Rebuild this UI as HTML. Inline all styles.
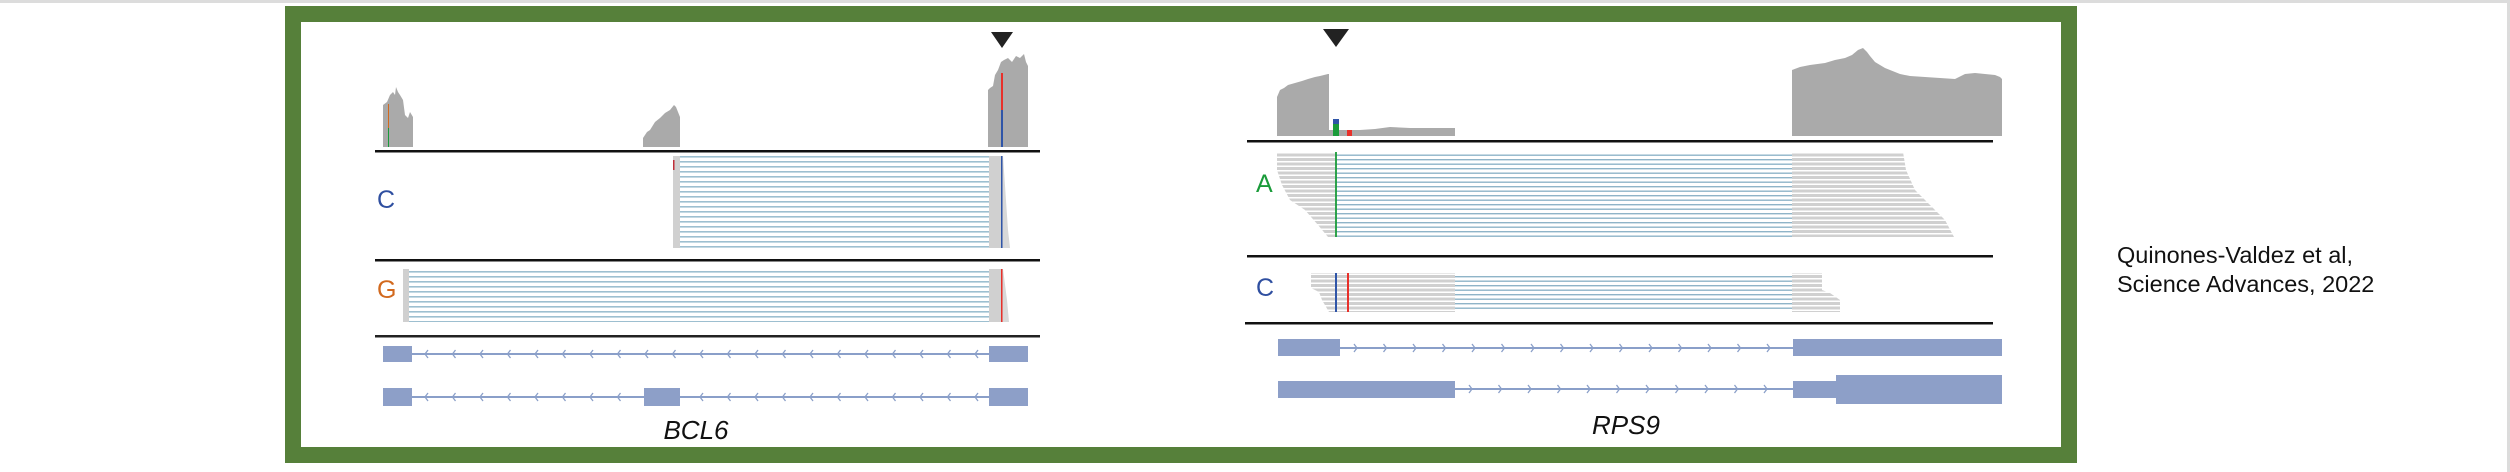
<!DOCTYPE html>
<html><head><meta charset="utf-8"><style>
html,body{margin:0;padding:0;background:#fff;}
body{width:2510px;height:472px;overflow:hidden;position:relative;}
</style></head><body>
<svg width="2510" height="472" viewBox="0 0 2510 472" xmlns="http://www.w3.org/2000/svg" style="position:absolute;left:0;top:0">
<defs>
<pattern id="rd" x="0" y="0" width="10" height="5" patternUnits="userSpaceOnUse"><rect x="0" y="1" width="10" height="1.6" fill="#9dbfd0"/></pattern>
<pattern id="rg" x="0" y="0" width="10" height="4.5" patternUnits="userSpaceOnUse"><rect x="0" y="0.5" width="10" height="3" fill="#d0d0d0"/></pattern>
<pattern id="rb" x="0" y="0" width="10" height="4.5" patternUnits="userSpaceOnUse"><rect x="0" y="1.5" width="10" height="1.4" fill="#8fb4c8"/></pattern>
<pattern id="al1" x="412" y="340" width="27.5" height="30" patternUnits="userSpaceOnUse"><path d="M16 10 L13 14 L16 18" stroke="#8a9fc9" stroke-width="1.3" fill="none"/></pattern>
<pattern id="al2" x="412" y="383" width="27.5" height="30" patternUnits="userSpaceOnUse"><path d="M16 10 L13 14 L16 18" stroke="#8a9fc9" stroke-width="1.3" fill="none"/></pattern>
<pattern id="ar1" x="1340" y="330" width="29.5" height="36" patternUnits="userSpaceOnUse"><path d="M14 14 L17 18 L14 22" stroke="#8a9fc9" stroke-width="1.3" fill="none"/></pattern>
<pattern id="ar2" x="1455" y="371" width="29.5" height="36" patternUnits="userSpaceOnUse"><path d="M14 14 L17 18 L14 22" stroke="#8a9fc9" stroke-width="1.3" fill="none"/></pattern>
</defs>
<rect x="0" y="0" width="2510" height="3" fill="#dcdcdc"/>
<rect x="2507" y="0" width="3" height="472" fill="#dcdcdc"/>
<!-- frame -->
<rect x="293" y="14" width="1776" height="441" fill="none" stroke="#56803a" stroke-width="16"/>

<!-- BCL6 -->
<polygon points="991,32 1013,32 1002,48" fill="#222"/>
<polygon points="383,147 383,105 387,102 390,95 393,92 395,95 396,87 398,92 400,95 403,100 405,115 408,118 410,112 413,117 413,147" fill="#aaa"/>
<rect x="388" y="104" width="1" height="24" fill="#d2691e"/><rect x="388" y="128" width="1" height="19" fill="#1a9b3a"/>
<polygon points="643,147 643,138 647,132 650,130 655,122 660,118 665,113 670,110 674,105 676,107 678,112 680,117 680,147" fill="#aaa"/>
<polygon points="988,147 988,90 990,88 993,86 995,75 998,70 1001,62 1004,60 1008,58 1012,62 1016,56 1020,58 1024,54 1026,62 1028,66 1028,147" fill="#aaa"/>
<rect x="1001" y="73" width="2" height="37" fill="#e8302a"/><rect x="1001" y="110" width="2" height="37" fill="#2f55a8"/>
<rect x="375" y="150" width="665" height="2.5" fill="#111"/>
<rect x="375" y="259" width="665" height="2.5" fill="#111"/>
<rect x="375" y="335" width="665" height="2.5" fill="#222"/>
<text x="377" y="208" font-family="Liberation Sans, sans-serif" font-size="25" fill="#2f4fa0">C</text>
<rect x="673" y="156" width="7" height="92" fill="#d0d0d0"/>
<rect x="673" y="160" width="1.5" height="10" fill="#c0303a"/>
<rect x="680" y="156" width="309" height="92" fill="url(#rd)"/>
<rect x="989" y="156" width="14" height="92" fill="#d0d0d0"/>
<polygon points="1003,156 1008,230 1010,248 1003,248" fill="#d8d8d8"/>
<rect x="1001" y="156" width="1.5" height="92" fill="#2f55a8"/>
<text x="377" y="298" font-family="Liberation Sans, sans-serif" font-size="25" fill="#d2691e">G</text>
<rect x="403" y="269" width="6" height="53" fill="#d0d0d0"/>
<rect x="409" y="269" width="580" height="53" fill="url(#rd)"/>
<rect x="989" y="269" width="14" height="53" fill="#d0d0d0"/>
<polygon points="1003,269 1007,300 1009,322 1003,322" fill="#d8d8d8"/>
<rect x="1001" y="269" width="1.5" height="53" fill="#e8302a"/>
<!-- gene tracks BCL6 -->
<rect x="412" y="353" width="577" height="2" fill="#8a9fc9"/>
<rect x="412" y="340" width="577" height="30" fill="url(#al1)"/>
<rect x="383" y="346" width="29" height="16" fill="#8d9fc8"/>
<rect x="989" y="346" width="39" height="16" fill="#8d9fc8"/>
<rect x="412" y="396" width="577" height="2" fill="#8a9fc9"/>
<rect x="412" y="383" width="232" height="30" fill="url(#al2)"/>
<rect x="680" y="383" width="309" height="30" fill="url(#al2)"/>
<rect x="383" y="388" width="29" height="18" fill="#8d9fc8"/>
<rect x="644" y="388" width="36" height="18" fill="#8d9fc8"/>
<rect x="989" y="388" width="39" height="18" fill="#8d9fc8"/>
<text x="696" y="439" text-anchor="middle" font-family="Liberation Sans, sans-serif" font-style="italic" font-size="26" fill="#111">BCL6</text>

<!-- RPS9 -->
<polygon points="1323,29 1349,29 1336,47" fill="#222"/>
<polygon points="1277,136 1277,97 1280,90 1284,88 1288,85 1295,83 1302,81 1308,79 1315,77 1320,76 1328,74 1329,74 1329,130 1340,130 1360,130 1375,129 1390,127 1410,128 1455,128 1455,136" fill="#aaa"/>
<rect x="1333" y="119" width="6" height="5" fill="#2f55a8"/><rect x="1333" y="124" width="6" height="12" fill="#1a9b3a"/>
<rect x="1347" y="130" width="5" height="6" fill="#e8302a"/>
<polygon points="1792,136 1792,70 1800,67 1810,65 1825,63 1835,60 1845,58 1852,55 1858,50 1863,48 1867,52 1870,56 1875,62 1880,65 1885,68 1890,70 1895,72 1900,74 1910,76 1925,77 1940,78 1955,79 1965,74 1975,73 1985,74 1995,75 2000,77 2002,79 2002,136" fill="#aaa"/>
<rect x="1247" y="140" width="746" height="2.5" fill="#111"/>
<rect x="1247" y="255" width="746" height="2.5" fill="#111"/>
<rect x="1245" y="322" width="748" height="2.5" fill="#111"/>
<text x="1256" y="192" font-family="Liberation Sans, sans-serif" font-size="25" fill="#1a9b3a">A</text>
<polygon points="1277,152 1336,152 1336,237 1328,237 1318,225 1305,210 1290,200 1282,185 1277,170" fill="url(#rg)"/>
<rect x="1336" y="152" width="456" height="85" fill="url(#rb)"/>
<polygon points="1792,152 1903,152 1906,170 1915,190 1930,205 1945,220 1954,237 1792,237" fill="url(#rg)"/>
<rect x="1335" y="152" width="2" height="85" fill="#1a9b3a" opacity="0.9"/>
<text x="1256" y="296" font-family="Liberation Sans, sans-serif" font-size="25" fill="#2f4fa0">C</text>
<polygon points="1311,273 1455,273 1455,312 1329,312 1322,300 1319,292 1311,288" fill="url(#rg)"/>
<rect x="1455" y="273" width="337" height="39" fill="url(#rb)"/>
<polygon points="1792,273 1822,273 1822,290 1830,293 1840,300 1840,312 1792,312" fill="url(#rg)"/>
<rect x="1335" y="273" width="2" height="39" fill="#2f55a8"/>
<rect x="1347" y="273" width="2" height="39" fill="#e8302a"/>
<!-- gene tracks RPS9 -->
<rect x="1340" y="347" width="453" height="2" fill="#8a9fc9"/>
<rect x="1340" y="330" width="453" height="36" fill="url(#ar1)"/>
<rect x="1278" y="339" width="62" height="17" fill="#8d9fc8"/>
<rect x="1793" y="339" width="209" height="17" fill="#8d9fc8"/>
<rect x="1455" y="388" width="338" height="2" fill="#8a9fc9"/>
<rect x="1455" y="371" width="338" height="36" fill="url(#ar2)"/>
<rect x="1278" y="381" width="177" height="17" fill="#8d9fc8"/>
<rect x="1793" y="381" width="43" height="17" fill="#8d9fc8"/>
<rect x="1836" y="375" width="166" height="29" fill="#8d9fc8"/>
<text x="1626" y="434" text-anchor="middle" font-family="Liberation Sans, sans-serif" font-style="italic" font-size="26" fill="#111">RPS9</text>

<text x="2117" y="263" font-family="Liberation Sans, sans-serif" font-size="23.5" fill="#111">Quinones-Valdez et al,</text>
<text x="2117" y="292" font-family="Liberation Sans, sans-serif" font-size="23.5" fill="#111">Science Advances, 2022</text>
</svg>
</body></html>
